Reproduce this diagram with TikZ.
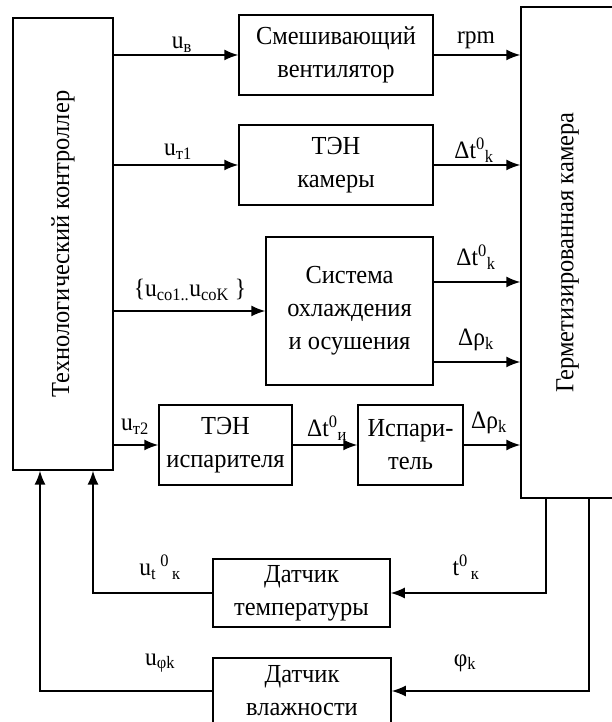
\documentclass[tikz,border=0pt]{standalone}
\usepackage{fontspec}
\setmainfont[FakeStretch=0.94]{Liberation Serif}
\usetikzlibrary{arrows.meta}
\begin{document}
\begin{tikzpicture}[x=1pt, y=1pt, line width=1.5pt,
  blk/.style={draw, rectangle, align=center, inner sep=0pt, font=\fontsize{26}{33}\selectfont},
  sig/.style={-{Latex[length=14pt,width=11pt]}},
  lbl/.style={inner sep=0pt, font=\fontsize{25}{28}\selectfont}]
\useasboundingbox (0,0) rectangle (612,722);
\node[blk, minimum width=100, minimum height=452] (ctrl) at (63,478) {\rotatebox{90}{Технологический контроллер}};
\node[blk, minimum width=93, minimum height=491] (cam) at (567.5,469.5) {\rotatebox{90}{Герметизированная камера}};
\node[blk, minimum width=194, minimum height=80] (mix) at (336,667) {Смешивающий\\вентилятор};
\node[blk, minimum width=194, minimum height=80] (tenk) at (336,557) {ТЭН\\камеры};
\node[blk, minimum width=167, minimum height=148] (cool) at (349.5,411) {Система\\охлаждения\\и осушения};
\node[blk, minimum width=133, minimum height=80] (teni) at (225.5,277) {ТЭН\\испарителя};
\node[blk, minimum width=105, minimum height=80] (evap) at (410.5,277) {Испари-\\тель};
\node[blk, minimum width=177, minimum height=68] (dtemp) at (301.5,129) {Датчик\\температуры};
\node[blk, minimum width=178, minimum height=66] (dhum) at (302,31) {Датчик\\влажности};

\coordinate (coolA) at ([yshift=29]cool.east);
\coordinate (coolB) at ([yshift=-51]cool.east);
\coordinate (tk) at ([xshift=-21.5]cam.south);
\coordinate (hk) at ([xshift=21.5]cam.south);
\coordinate (ft) at ([xshift=30]ctrl.south);
\coordinate (fh) at ([xshift=-23]ctrl.south);

\node[lbl] (lub) at (182,677) {u\textsubscript{в}};
\node[lbl] (lrpm) at (476,682) {rpm};
\node[lbl] (lut1) at (178,570) {u\textsubscript{т1}};
\node[lbl] (ldtk) at (474,572) {Δt\textsuperscript{0}\textsubscript{k}};
\node[lbl] (luco) at (190,432) {\{u\textsubscript{со1..}u\textsubscript{соK}~\}};
\node[lbl] (ldtk2) at (476,465) {Δt\textsuperscript{0}\textsubscript{k}};
\node[lbl] (ldrk) at (476,382) {Δρ\textsubscript{k}};
\node[lbl] (lut2) at (135,295) {u\textsubscript{т2}};
\node[lbl] (ldti) at (327,294) {Δt\textsuperscript{0}\textsubscript{и}};
\node[lbl] (ldrk2) at (489,299) {Δρ\textsubscript{k}};
\node[lbl] (lutk) at (160,155) {u\textsubscript{t}\,\textsuperscript{0}\textsubscript{\,к}};
\node[lbl] (ltk) at (466,155) {t\textsuperscript{0}\textsubscript{\,к}};
\node[lbl] (lufk) at (160,59) {u\textsubscript{φk}};
\node[lbl] (lfk) at (465,59) {φ\textsubscript{k}};

\path[draw,sig] (ctrl.east |- mix) -- (mix);
\path[draw,sig] (mix) -- (mix -| cam.west);
\path[draw,sig] (ctrl.east |- tenk) -- (tenk);
\path[draw,sig] (tenk) -- (tenk -| cam.west);
\path[draw,sig] (ctrl.east |- cool) -- (cool);
\path[draw,sig] (coolA) -- (coolA -| cam.west);
\path[draw,sig] (coolB) -- (coolB -| cam.west);
\path[draw,sig] (ctrl.east |- teni) -- (teni);
\path[draw,sig] (teni) -- (evap);
\path[draw,sig] (evap) -- (evap -| cam.west);
\path[draw,sig] (tk) |- (dtemp);
\path[draw,sig] (hk) |- (dhum);
\path[draw,sig] (dtemp) -| (ft);
\path[draw,sig] (dhum) -| (fh);
\end{tikzpicture}
\end{document}
